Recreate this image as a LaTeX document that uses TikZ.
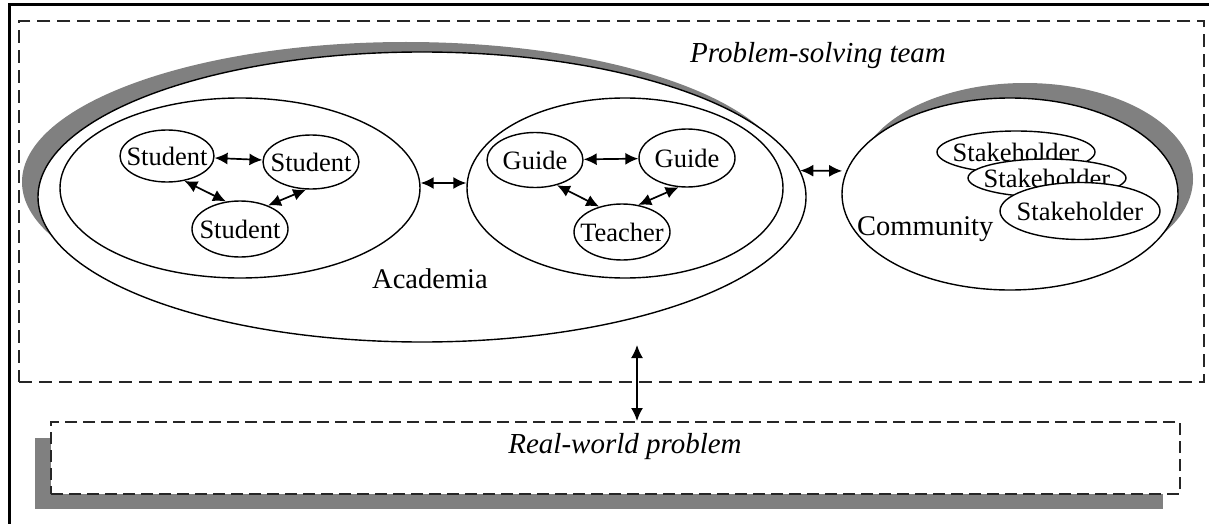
\documentclass[tikz,border=0pt]{standalone}
\usepackage{fontspec}
\setmainfont{Liberation Serif}
\usetikzlibrary{arrows.meta,shapes.geometric}
\newcommand{\zbx}[1]{\makebox[0pt]{#1}}
\begin{document}
\begin{tikzpicture}[x=1pt,y=-1pt,
  ell/.style={ellipse, draw, line width=1.4pt, fill=white, inner sep=0pt},
  shadowell/.style={ellipse, fill=black!50, draw=none, inner sep=0pt},
  lbl/.style={font=\fontsize{26.5}{30}\selectfont},
  big/.style={font=\fontsize{28.5}{32}\selectfont, inner sep=0pt},
  ttl/.style={font=\fontsize{29}{33}\selectfont\itshape, inner sep=0pt},
  dbl/.style={line width=1.7pt, {Latex[length=13pt,width=12pt]}-{Latex[length=13pt,width=12pt]}},
  dashbox/.style={draw=black!85, line width=2.2pt, dash pattern=on 13pt off 7pt}]
\useasboundingbox (0,0) rectangle (1209,524);
\fill[white] (0,0) rectangle (1209,524);
% outer frame (cropped)
\draw[line width=3pt, line join=miter] (9,530) -- (9,5) -- (1215,5);
% team box
\node[dashbox, rectangle, minimum width=1185pt, minimum height=361pt, anchor=north west, inner sep=0pt] (team) at (18,20) {};
\node[ttl, anchor=base] (teamlbl) at (818,63) {Problem-solving team};
% academia
\node[shadowell, minimum width=768pt, minimum height=280pt] (acadsh) at (406,182) {};
\node[ell, minimum width=768pt, minimum height=290pt] (acad) at (422,197) {};
\node[big, anchor=base] (acadlbl) at (430,288) {Academia};
\node[ell, minimum width=360pt, minimum height=180pt] (sgrp) at (240,188) {};
\node[ell, minimum width=316pt, minimum height=180pt] (ggrp) at (625,188) {};
% community
\node[shadowell, minimum width=336pt, minimum height=192pt] (commsh) at (1025,179) {};
\node[ell, minimum width=336pt, minimum height=192pt] (comm) at (1010,194) {};
\node[big, anchor=base west] (commlbl) at (857,235) {Community};
% students
\node[ell, lbl, minimum width=94pt, minimum height=52pt] (st1) at (167,156) {\zbx{Student}};
\node[ell, lbl, minimum width=96pt, minimum height=54pt] (st2) at (311,162) {\zbx{Student}};
\node[ell, lbl, minimum width=96pt, minimum height=56pt] (st3) at (240,229) {\zbx{Student}};
% guides and teacher
\node[ell, lbl, minimum width=96pt, minimum height=55pt] (g1) at (535,160) {\zbx{Guide}};
\node[ell, lbl, minimum width=96pt, minimum height=58pt] (g2) at (687,158) {\zbx{Guide}};
\node[ell, lbl, minimum width=96pt, minimum height=56pt] (te) at (622,232) {\zbx{Teacher}};
% stakeholders
\node[ell, lbl, minimum width=158pt, minimum height=42pt] (sh1) at (1016,152) {\zbx{Stakeholder}};
\node[ell, lbl, minimum width=158pt, minimum height=38pt] (sh2) at (1047,178) {\zbx{Stakeholder}};
\node[ell, lbl, minimum width=160pt, minimum height=57pt] (sh3) at (1080,211) {\zbx{Stakeholder}};
% arrows
\draw[dbl] (st1) -- (st2);
\draw[dbl] (st1.-55) -- (st3.117);
\draw[dbl] (st2.-100) -- (st3.40);
\draw[dbl] (g1) -- (g2);
\draw[dbl] (g1.-49) -- (te.132);
\draw[dbl] (g2.-106) -- (te.59);
\draw[dbl] ([yshift=5pt]sgrp.east) -- ([yshift=5pt]ggrp.west);
\draw[dbl, shorten >=4pt] (acad.4) -- (comm.172);
% real-world problem
\fill[black!50] (35,438) rectangle (1163,509);
\node[dashbox, rectangle, fill=white, line width=2pt, dash pattern=on 12pt off 6pt, minimum width=1129pt, minimum height=72pt, anchor=north west, inner sep=0pt] (rw) at (50,421) {};
\node[ttl, anchor=base] (rwlbl) at (625,453) {Real-world problem};
\coordinate (vt) at (637,345);
\draw[dbl] (vt) -- (vt |- rw.north);
\end{tikzpicture}
\end{document}
